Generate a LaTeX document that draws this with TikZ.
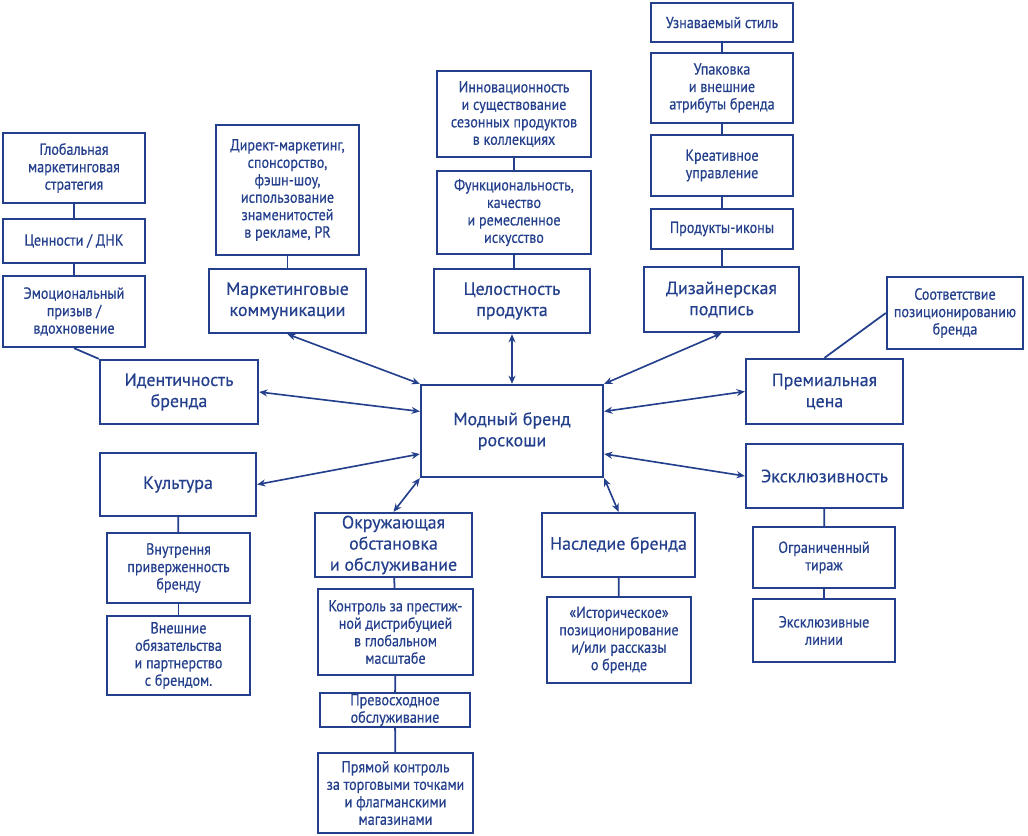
\documentclass[tikz,border=0pt]{standalone}
\usepackage{fontspec}
\setmainfont{PT Sans}
\newfontfamily\mainfont[FakeBold=0.4]{PT Sans}
\newfontfamily\subfont[FakeStretch=0.88,FakeBold=0.5]{PT Sans}
\usetikzlibrary{arrows.meta}
\definecolor{brandblue}{RGB}{36,64,140}

\begin{document}
\begin{tikzpicture}[
    x=0.03cm,y=-0.03cm,
    >={Stealth[length=7pt,width=6pt]},
    arrow/.style={<->, line width=1.4pt, draw=brandblue},
    link/.style={line width=1.5pt, draw=brandblue},
    mainbox/.style 2 args={
        draw=brandblue,
        line width=2pt,
        fill=white,
        text=brandblue,
        align=center,
        inner sep=0pt,
        minimum width=#1*0.3mm,
        minimum height=#2*0.3mm,
        font=\mainfont\fontsize{15.3}{18}\selectfont
    },
    subbox/.style 2 args={
        draw=brandblue,
        line width=2pt,
        fill=white,
        text=brandblue,
        align=center,
        inner sep=0pt,
        minimum width=#1*0.3mm,
        minimum height=#2*0.3mm,
        font=\subfont\fontsize{13.7}{14.9}\selectfont
    }
]
    \useasboundingbox (0,0) rectangle (1028,836);

    % центр
    \node[mainbox={182}{92}] (brand) at (512,431) {Модный бренд\\роскоши};

    % идентичность бренда
    \node[subbox={142}{70}] (strat) at (74,168) {Глобальная\\маркетинговая\\стратегия};
    \node[subbox={142}{44}] (dna) at (74,241) {Ценности / ДНК};
    \node[subbox={142}{71}] (emo) at (74,311.5) {Эмоциональный\\призыв /\\вдохновение};
    \node[mainbox={158}{64}] (ident) at (179,392) {Идентичность\\бренда};

    % маркетинговые коммуникации
    \node[subbox={143}{130}] (direct) at (287.5,190) {Директ-маркетинг,\\спонсорство,\\фэшн-шоу,\\использование\\знаменитостей\\в рекламе, PR};
    \node[mainbox={157}{64}] (mcomm) at (287.5,301) {Маркетинговые\\коммуникации};

    % целостность продукта
    \node[subbox={154}{86}] (innov) at (514,114) {Инновационность\\и существование\\сезонных продуктов\\в коллекциях};
    \node[subbox={154}{83}] (func) at (514,212.5) {Функциональность,\\качество\\и ремесленное\\искусство};
    \node[mainbox={156}{64}] (integ) at (512,301) {Целостность\\продукта};

    % дизайнерская подпись
    \node[subbox={142}{39}] (style) at (722,22.5) {Узнаваемый стиль};
    \node[subbox={142}{70}] (pack) at (722,88) {Упаковка\\и внешние\\атрибуты бренда};
    \node[subbox={142}{61}] (creat) at (722,165.5) {Креативное\\управление};
    \node[subbox={142}{40}] (icons) at (722,229) {Продукты-иконы};
    \node[mainbox={155}{65}] (design) at (721.5,299.5) {Дизайнерская\\подпись};

    % премиальная цена
    \node[subbox={136}{72}] (posit) at (955,313) {Соответствие\\позиционированию\\бренда};
    \node[mainbox={157}{65}] (price) at (824.5,391.5) {Премиальная\\цена};

    % эксклюзивность
    \node[mainbox={157}{64}] (excl) at (824.5,476) {Эксклюзивность};
    \node[subbox={142}{61}] (limit) at (824,557.5) {Ограниченный\\тираж};
    \node[subbox={142}{63}] (lines) at (824,630.5) {Эксклюзивные\\линии};

    % культура
    \node[mainbox={156}{63}] (cult) at (178,484.5) {Культура};
    \node[subbox={143}{70}] (inner) at (178.5,568) {Внутрення\\приверженность\\бренду};
    \node[subbox={143}{79}] (outer) at (178.5,655.5) {Внешние\\обязательства\\и партнерство\\с брендом.};

    % окружающая обстановка
    \node[mainbox={157}{64}] (env) at (393.5,545) {Окружающая\\обстановка\\и обслуживание};
    \node[subbox={155}{86}] (prest) at (395.5,632) {Контроль за престиж-\\ной дистрибуцией\\в глобальном\\масштабе};
    \node[subbox={150}{34}] (serv) at (395,710) {Превосходное\\обслуживание};
    \node[subbox={155}{80}] (shops) at (395.5,793) {Прямой контроль\\за торговыми точками\\и флагманскими\\магазинами};

    % наследие бренда
    \node[mainbox={153}{64}] (herit) at (618.5,545) {Наследие бренда};
    \node[subbox={144}{86}] (hist) at (619,640) {«Историческое»\\позиционирование\\и/или рассказы\\о бренде};

    % связи внутри групп
    \draw[link] (strat) -- (dna);
    \draw[link] (dna) -- (emo);
    \draw[link] (emo.south) -- (ident.north west);
    \draw[link] (direct) -- (mcomm);
    \draw[link] (innov) -- (func);
    \draw[link] (func.south) -- (func.south |- integ.north);
    \draw[link] (style) -- (pack);
    \draw[link] (pack) -- (creat);
    \draw[link] (creat) -- (icons);
    \draw[link] (icons.south) -- (icons.south |- design.north);
    \draw[link] (price.north) -- (posit.west);
    \draw[link] (excl) -- (limit);
    \draw[link] (limit) -- (lines);
    \draw[link] (cult) -- (inner);
    \draw[link] (inner) -- (outer);
    \draw[link] (env) -- (prest);
    \draw[link] (prest) -- (serv);
    \draw[link] (serv) -- (shops);
    \draw[link] (herit) -- (hist);

    % стрелки к центру
    \draw[arrow] (mcomm.south) -- (brand.north west);
    \draw[arrow] (integ.south) -- (brand.north);
    \draw[arrow] (design.south) -- (brand.north east);
    \draw[arrow] (ident.east) -- (brand.168);
    \draw[arrow] (cult.east) -- (brand.194);
    \draw[arrow] (price.west) -- (brand.12);
    \draw[arrow] (excl.west) -- (brand.346);
    \draw[arrow] (env.north) -- (brand.south west);
    \draw[arrow] (herit.north) -- (brand.south east);
\end{tikzpicture}
\end{document}
